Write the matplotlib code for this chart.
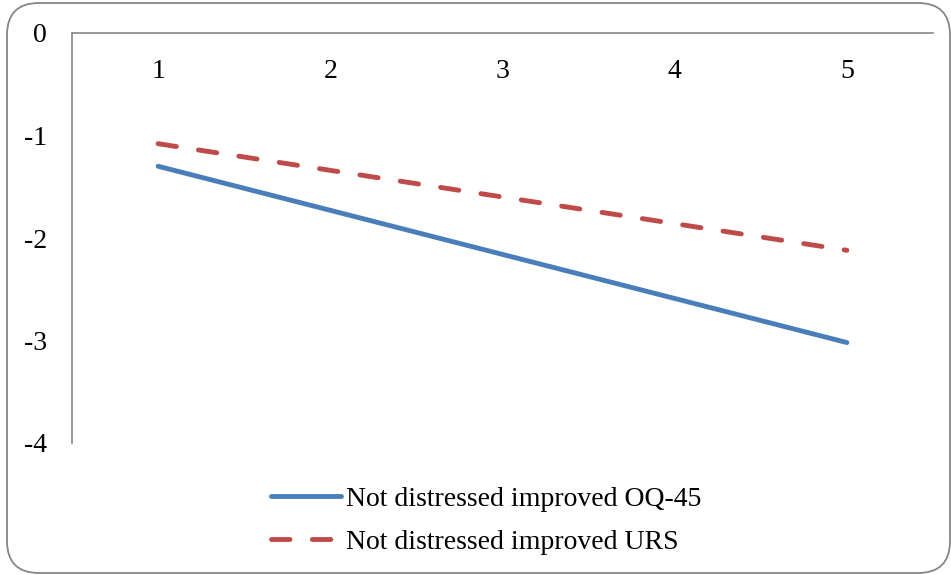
import matplotlib.pyplot as plt
from matplotlib.patches import FancyBboxPatch

# category positions and series values
sessions = [1, 2, 3, 4, 5]
oq45 = [-1.30, -1.73, -2.16, -2.59, -3.02]
urs = [-1.08, -1.34, -1.60, -1.86, -2.12]
y_ticks = [0, -1, -2, -3, -4]

BLUE = "#4A7EBB"
RED = "#BE4B48"
GRID = "#868686"


def main():
    plt.rcParams["font.family"] = ["Liberation Serif", "DejaVu Serif"]
    fig = plt.figure(figsize=(9.51, 5.75), dpi=100)

    # background layer in pixel units for the rounded outer frame
    bg = fig.add_axes([0, 0, 1, 1])
    bg.set_xlim(0, 951)
    bg.set_ylim(575, 0)
    bg.axis("off")
    bg.add_patch(FancyBboxPatch((7, 3), 943, 570,
                                boxstyle="round,pad=0,rounding_size=32",
                                fill=False, edgecolor=GRID, linewidth=1.3))

    ax = fig.add_axes([72 / 951, 1 - 443 / 575, (933 - 72) / 951, (443 - 33) / 575])
    ax.plot(sessions, oq45, color=BLUE, linewidth=3.5,
            solid_capstyle="round", label="Not distressed improved OQ-45")
    ax.plot(sessions, urs, color=RED, linewidth=3.5, dashes=(3.8, 4.6),
            dash_capstyle="round", label="Not distressed improved URS")

    ax.set_xlim(0.5, 5.5)
    ax.set_ylim(-4, 0)
    for side in ["right", "bottom"]:
        ax.spines[side].set_visible(False)
    for side in ["left", "top"]:
        ax.spines[side].set_color(GRID)
        ax.spines[side].set_linewidth(1.2)

    ax.set_yticks(y_ticks)
    ax.set_yticklabels([str(v) for v in y_ticks])
    ax.set_xticks(sessions)
    ax.set_xticklabels([str(s) for s in sessions])
    ax.xaxis.set_ticks_position("top")
    ax.tick_params(axis="x", length=0, pad=-37, labelsize=20)
    ax.tick_params(axis="y", length=0, pad=18, labelsize=20)
    ax.patch.set_alpha(0)

    fig.legend(loc="upper left", bbox_to_anchor=(260 / 951, 1 - 475 / 575),
               frameon=False, fontsize=20, handlelength=2.5,
               handletextpad=0.2, labelspacing=0.65, borderaxespad=0)

    fig.savefig("out.png", dpi=100)


if __name__ == "__main__":
    main()
